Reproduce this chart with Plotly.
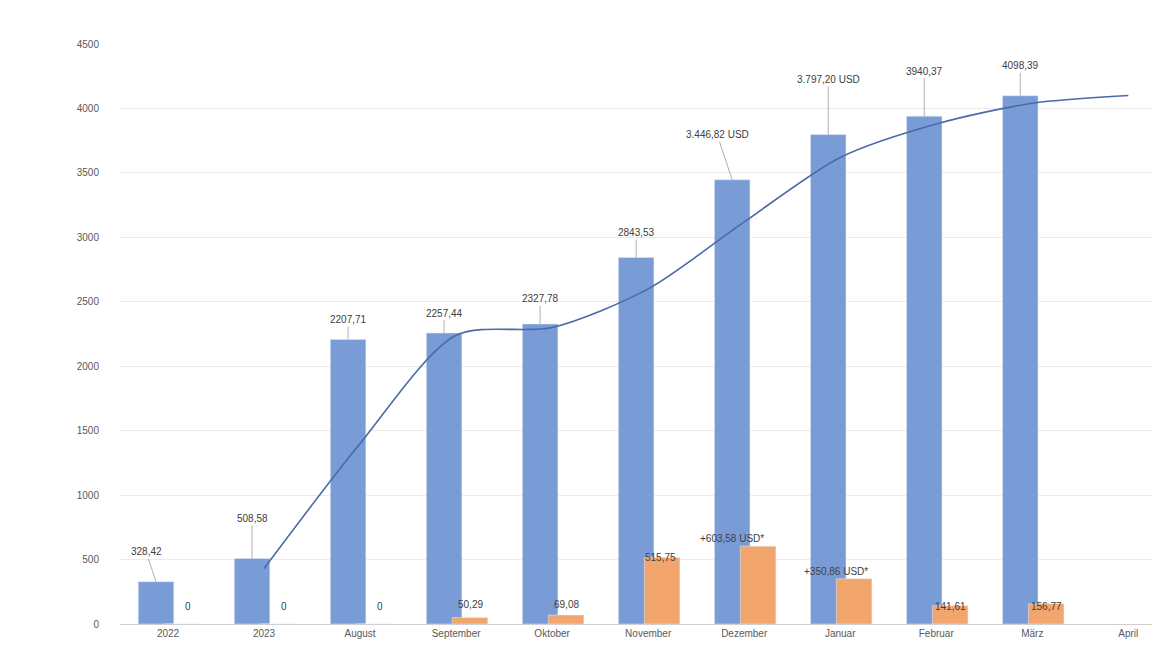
import plotly.graph_objects as go

categories = ["2022", "2023", "August", "September", "Oktober", "November",
              "Dezember", "Januar", "Februar", "März", "April"]
totals = [328.42, 508.58, 2207.71, 2257.44, 2327.78, 2843.53, 3446.82, 3797.20, 3940.37, 4098.39, None]
total_labels = ["328,42", "508,58", "2207,71", "2257,44", "2327,78", "2843,53",
                "3.446,82 USD", "3.797,20 USD", "3940,37", "4098,39", ""]
monthly = [0, 0, 0, 50.29, 69.08, 515.75, 603.58, 350.86, 141.61, 156.77, None]
monthly_labels = ["0", "0", "0", "50,29", "69,08", "515,75",
                  "+603,58 USD*", "+350,86 USD*", "141,61", "156,77", ""]
trend = [None, 430, 1400, 2240, 2300, 2600, 3120, 3620, 3880, 4040, 4100]

blue = "#7a9cd6"
orange = "#f2a56c"

fig = go.Figure()
fig.add_trace(go.Bar(x=categories, y=totals, marker_color=blue, width=0.37, offset=-0.31))
fig.add_trace(go.Bar(x=categories, y=monthly, marker_color=orange, width=0.37, offset=-0.04))
fig.add_trace(go.Scatter(x=categories, y=trend, mode="lines",
                         line=dict(color="#4a6aa8", width=1.6, shape="spline", smoothing=0.8)))

# leader-line labels above blue bars
lead = [(-10, -30), (0, -40), (0, -20), (0, -20), (0, -25), (0, -25),
        (-15, -45), (0, -55), (0, -45), (0, -30)]
for i, (ax, ay) in enumerate(lead):
    fig.add_annotation(x=i, y=totals[i], xshift=-12, text=total_labels[i], showarrow=True,
                       arrowhead=0, arrowwidth=1, arrowcolor="#b0b0b0", ax=ax, ay=ay,
                       font=dict(size=10, color="#404040"))

# orange labels
oshift = [(20, 10), (20, 10), (20, 10), (14, 12), (14, 12), (12, -100),
          (-12, -5), (-4, -15), (14, 10), (14, 10)]
for i, (xs, ys) in enumerate(oshift):
    y = monthly[i]
    fig.add_annotation(x=i, y=y if i not in (3, 4, 8, 9) else 0, xshift=xs,
                       yshift=ys if i not in (5, 6, 7) else 0,
                       yanchor="bottom" if i not in (5,) else "middle",
                       text=monthly_labels[i], showarrow=False,
                       font=dict(size=10, color="#404040"))

fig.update_layout(
    width=1160, height=665, showlegend=False, barmode="overlay",
    plot_bgcolor="white", paper_bgcolor="white",
    margin=dict(l=112, r=8, t=36, b=49),
    font=dict(family="Liberation Sans", size=10, color="#595959"),
    xaxis=dict(range=[-0.5, 10.33], showline=True, linecolor="#d0d0d0", ticks=""),
    yaxis=dict(range=[0, 4500], dtick=500, gridcolor="#ececec", zeroline=False,
               tickformat="d", ticklabelstandoff=20),
)
fig.write_html("out.html")
